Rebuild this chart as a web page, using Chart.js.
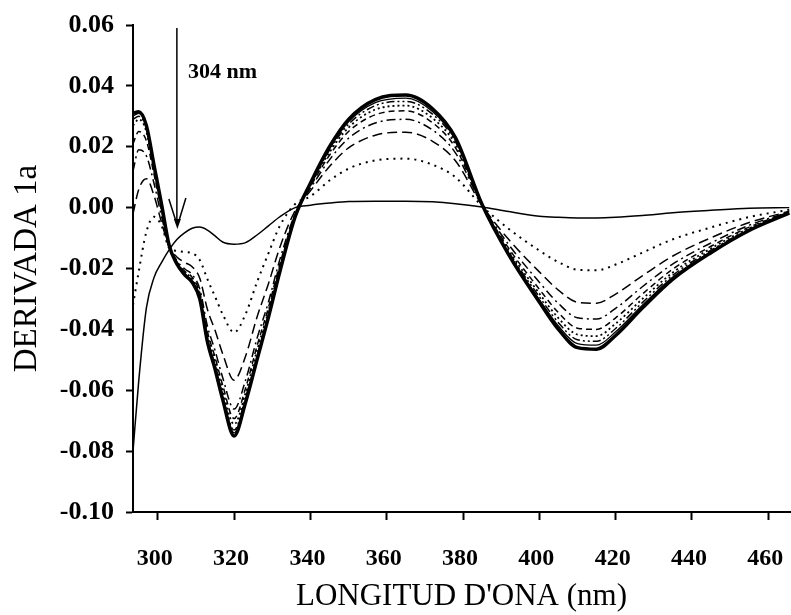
<!DOCTYPE html>
<html>
<head>
<meta charset="utf-8">
<script src="https://cdn.jsdelivr.net/npm/chart.js@4.4.1/dist/chart.umd.min.js"></script>
<style>
  html, body { margin: 0; padding: 0; background: #fff; }
  #wrap { width: 791px; height: 615px; }
</style>
</head>
<body>
<div id="wrap"><canvas id="myChart" width="791" height="615"></canvas></div>
<script>
// wavelength (nm)
const wavelengths = [293.5, 295, 297, 299, 301, 303, 305, 307, 309, 311, 313, 315, 317, 320, 323, 326, 329, 332, 336, 340,
  345, 350, 357, 365, 372, 378, 385, 392, 400, 405, 410, 415, 420, 427, 435, 445, 455, 465.5];

// first derivative spectra, from the first (flat) curve to the last (thick) one
const curve1 = [-0.080, -0.057, -0.033, -0.023, -0.018, -0.0138, -0.0105, -0.0083, -0.0068, -0.0064, -0.0074, -0.0093, -0.0113, -0.0120, -0.0115, -0.0090, -0.0060, -0.0030, 0.0000, 0.0008,
  0.0015, 0.0020, 0.0021, 0.0021, 0.0019, 0.0013, 0.0002, -0.0013, -0.0028, -0.0032, -0.0034, -0.0034, -0.0032, -0.0026, -0.0017, -0.0009, -0.0002, 0.0000];
const curve2 = [-0.032, -0.021, -0.008, -0.003, -0.006, -0.0133, -0.0142, -0.0146, -0.0150, -0.0172, -0.0235, -0.0292, -0.0350, -0.0410, -0.0350, -0.0245, -0.0150, -0.0060, 0.0012, 0.0037,
  0.0089, 0.0128, 0.0155, 0.0161, 0.0141, 0.0100, 0.0005, -0.0070, -0.0141, -0.0179, -0.0204, -0.0206, -0.0187, -0.0148, -0.0104, -0.0065, -0.0031, -0.0007];
const curve3 = [-0.002, 0.006, 0.0095, 0.004, -0.005, -0.0130, -0.0162, -0.0180, -0.0194, -0.0232, -0.0334, -0.0403, -0.0480, -0.0567, -0.0488, -0.0360, -0.0250, -0.0130, -0.0010, 0.0055,
  0.0135, 0.0196, 0.0238, 0.0248, 0.0218, 0.0154, 0.0007, -0.0105, -0.0211, -0.0271, -0.0311, -0.0314, -0.0284, -0.0224, -0.0159, -0.0099, -0.0049, -0.0012];
const curve4 = [0.012, 0.019, 0.017, 0.008, -0.003, -0.0128, -0.0174, -0.0201, -0.0220, -0.0267, -0.0389, -0.0469, -0.0558, -0.0662, -0.0567, -0.0430, -0.0310, -0.0170, -0.0020, 0.0063,
  0.0157, 0.0228, 0.0278, 0.0290, 0.0255, 0.0180, 0.0008, -0.0122, -0.0245, -0.0315, -0.0362, -0.0366, -0.0331, -0.0260, -0.0185, -0.0116, -0.0058, -0.0014];
const curve5 = [0.021, 0.025, 0.022, 0.011, -0.001, -0.0127, -0.0178, -0.0208, -0.0229, -0.0279, -0.0407, -0.0491, -0.0583, -0.0693, -0.0593, -0.0455, -0.0328, -0.0185, -0.0025, 0.0069,
  0.0172, 0.0250, 0.0305, 0.0318, 0.0279, 0.0197, 0.0009, -0.0134, -0.0268, -0.0345, -0.0396, -0.0400, -0.0362, -0.0284, -0.0202, -0.0127, -0.0064, -0.0015];
const curve6 = [0.027, 0.029, 0.025, 0.012, 0.000, -0.0127, -0.0180, -0.0212, -0.0234, -0.0286, -0.0418, -0.0504, -0.0599, -0.0712, -0.0609, -0.0470, -0.0340, -0.0195, -0.0028, 0.0073,
  0.0182, 0.0263, 0.0322, 0.0335, 0.0294, 0.0208, 0.0009, -0.0141, -0.0282, -0.0363, -0.0417, -0.0422, -0.0381, -0.0300, -0.0213, -0.0134, -0.0068, -0.0016];
const curve7 = [0.029, 0.030, 0.026, 0.013, 0.0005, -0.0126, -0.0183, -0.0216, -0.0240, -0.0293, -0.0429, -0.0517, -0.0614, -0.0731, -0.0624, -0.0490, -0.0355, -0.0203, -0.0029, 0.0076,
  0.0189, 0.0274, 0.0335, 0.0349, 0.0307, 0.0217, 0.0010, -0.0146, -0.0293, -0.0378, -0.0434, -0.0439, -0.0397, -0.0312, -0.0222, -0.0140, -0.0071, -0.0017];
const curve8 = [0.030, 0.031, 0.0265, 0.0135, 0.0008, -0.0125, -0.0184, -0.0218, -0.0242, -0.0296, -0.0434, -0.0524, -0.0622, -0.0740, -0.0632, -0.0500, -0.0363, -0.0207, -0.0030, 0.0078,
  0.0194, 0.0282, 0.0345, 0.0360, 0.0316, 0.0223, 0.0010, -0.0151, -0.0302, -0.0389, -0.0447, -0.0452, -0.0408, -0.0321, -0.0228, -0.0144, -0.0073, -0.0017];
const curve9 = [0.031, 0.0315, 0.027, 0.014, 0.001, -0.0125, -0.0185, -0.0220, -0.0245, -0.0300, -0.0440, -0.0530, -0.0630, -0.0750, -0.0640, -0.0500, -0.0360, -0.0210, -0.0030, 0.0080,
  0.0200, 0.0290, 0.0355, 0.0370, 0.0325, 0.0230, 0.0010, -0.0155, -0.0310, -0.0400, -0.0460, -0.0465, -0.0420, -0.0330, -0.0235, -0.0148, -0.0075, -0.0018];

const xTicks = [300, 320, 340, 360, 380, 400, 420, 440, 460];
const yTicks = [-0.10, -0.08, -0.06, -0.04, -0.02, 0.00, 0.02, 0.04, 0.06];
const yTickLabels = ['-0.10', '-0.08', '-0.06', '-0.04', '-0.02', '0.00', '0.02', '0.04', '0.06'];

// arrow marking 304 nm
const arrowNm = 305;
const arrowFrom = 0.059;
const arrowTo = -0.007;
const arrowLabel = '304 nm';
const arrowLabelNm = 307.9;
const arrowLabelVal = 0.0443;

const curves = [curve1, curve2, curve3, curve4, curve5, curve6, curve7, curve8, curve9];
const widths = [1.5, 2, 1.5, 1.5, 1.5, 1.8, 1.5, 1.3, 3.5];
const dashes = [[], [2, 5], [10, 5], [9, 4, 2, 4], [6, 4], [2, 3], [8, 3, 2, 3, 2, 3], [], []];

const arrowPlugin = {
  id: 'arrow',
  afterDatasetsDraw(chart) {
    const { ctx, scales: { x, y } } = chart;
    const px = x.getPixelForValue(arrowNm);
    const y1 = y.getPixelForValue(arrowFrom);
    const y2 = y.getPixelForValue(arrowTo);
    ctx.save();
    ctx.strokeStyle = '#000';
    ctx.fillStyle = '#000';
    ctx.lineWidth = 1.5;
    ctx.beginPath();
    ctx.moveTo(px, y1);
    ctx.lineTo(px, y2 - 6);
    ctx.stroke();
    // head
    ctx.beginPath();
    ctx.moveTo(px - 8, y2 - 30);
    ctx.lineTo(px - 1, y2 - 8);
    ctx.moveTo(px + 9, y2 - 31);
    ctx.lineTo(px + 2, y2 - 8);
    ctx.stroke();
    ctx.beginPath();
    ctx.moveTo(px - 3, y2 - 10);
    ctx.lineTo(px + 4, y2 - 10);
    ctx.lineTo(px + 0.5, y2);
    ctx.closePath();
    ctx.fill();
    ctx.font = 'bold 22px "Liberation Serif"';
    ctx.textAlign = 'left';
    ctx.textBaseline = 'middle';
    ctx.fillText(arrowLabel, x.getPixelForValue(arrowLabelNm), y.getPixelForValue(arrowLabelVal));
    ctx.restore();
  }
};

const ctx = document.getElementById('myChart');

new Chart(ctx, {
  type: 'line',
  data: {
    datasets: curves.map((c, k) => ({
      data: wavelengths.map((w, i) => ({ x: w, y: c[i] })),
      borderColor: '#000',
      borderWidth: widths[k],
      borderDash: dashes[k],
      pointRadius: 0,
      fill: false,
      cubicInterpolationMode: 'monotone'
    }))
  },
  options: {
    responsive: false,
    animation: false,
    devicePixelRatio: 1,
    layout: { padding: { top: 25, right: 1, left: 0, bottom: 0 } },
    plugins: { legend: { display: false }, tooltip: { enabled: false } },
    scales: {
      x: {
        type: 'linear',
        min: 293.5,
        max: 465.7,
        afterBuildTicks: (s) => { s.ticks = xTicks.map(v => ({ value: v })); },
        afterFit: (s) => { s.height = 103; s.paddingLeft = 0; s.paddingRight = 0; },
        ticks: {
          color: '#000',
          font: { family: 'Liberation Serif', size: 24, weight: 'bold' },
          padding: 24,
          labelOffset: -3,
          maxRotation: 0
        },
        grid: { drawOnChartArea: false, drawTicks: true, tickLength: 8, tickWidth: 2, tickColor: '#000' },
        border: { color: '#000', width: 2 },
        title: {
          display: true,
          text: "LONGITUD D'ONA (nm)",
          color: '#000',
          font: { family: 'Liberation Serif', size: 31 },
          padding: { top: 0, bottom: 0 }
        }
      },
      y: {
        min: -0.10,
        max: 0.06,
        afterBuildTicks: (s) => { s.ticks = yTicks.map(v => ({ value: v })); },
        afterFit: (s) => { s.width = 133; s.paddingTop = 0; s.paddingBottom = 0; },
        ticks: {
          color: '#000',
          font: { family: 'Liberation Serif', size: 26, weight: 'bold' },
          padding: 12,
          callback: (v, i) => yTickLabels[i]
        },
        grid: { drawOnChartArea: false, drawTicks: true, tickLength: 7, tickWidth: 2, tickColor: '#000' },
        border: { color: '#000', width: 2 },
        title: {
          display: true,
          text: 'DERIVADA 1a',
          color: '#000',
          font: { family: 'Liberation Serif', size: 33 },
          padding: { top: 8, bottom: 0 }
        }
      }
    }
  },
  plugins: [arrowPlugin]
});
</script>
</body>
</html>
